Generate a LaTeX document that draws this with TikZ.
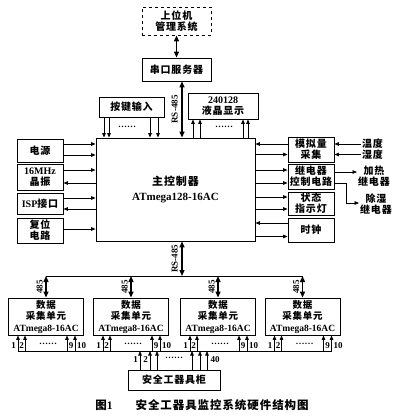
\documentclass[tikz,border=0pt]{standalone}
\usepackage{fontspec}
\setmainfont{Liberation Serif}
\newfontfamily\cjk{Noto Sans CJK SC}[LetterSpace=8]
\usetikzlibrary{arrows.meta,positioning,calc}
\newcommand{\en}[1]{{\rmfamily #1}}
\tikzset{
    blk/.style={
        rectangle, draw, line width=0.9pt, fill=white, inner sep=1pt,
        align=center, font=\fontsize{10}{11}\selectfont\bfseries\cjk
    },
    txt/.style={inner sep=1pt, align=center, font=\fontsize{10}{11}\selectfont\bfseries\cjk},
    lbl/.style={inner sep=1pt, font=\fontsize{9}{9}\selectfont\bfseries},
    arr/.style={-{Triangle[length=4.5pt, width=3.6pt]}, line width=0.8pt},
    darr/.style={{Triangle[length=6pt, width=5pt]}-{Triangle[length=6pt, width=5pt]}, line width=1.3pt},
}

\begin{document}
\begin{tikzpicture}[x=1pt, y=-1pt]
    \useasboundingbox (0,0) rectangle (404,419);

    % upper part
    \node [blk, dashed, minimum width=69pt, minimum height=28pt] (host) at (176.5,21) {上位机\\管理系统};
    \node [blk, minimum width=69pt, minimum height=23pt] (srv) at (176.5,69.5) {串口服务器};
    \node [blk, minimum width=65pt, minimum height=20pt] (key) at (131.5,107) {按键输入};
    \node [blk, minimum width=70pt, minimum height=26pt] (lcd) at (223,106) {\en{240128}\\液晶显示};
    \node [blk, minimum width=159pt, minimum height=103pt, font=\fontsize{11}{15}\selectfont\bfseries\cjk]
        (main) at (175.5,189.5) {主控制器\\\en{ATmega128-16AC}};

    % left column
    \node [blk, minimum width=46pt, minimum height=23pt] (pwr) at (40,150.5) {电源};
    \node [blk, minimum width=46pt, minimum height=26pt] (osc) at (40,177) {\en{16MHz}\\晶振};
    \node [blk, minimum width=46pt, minimum height=21pt] (isp) at (40,203.5) {\en{ISP}接口};
    \node [blk, minimum width=46pt, minimum height=25pt] (rst) at (40,230.5) {复位\\电路};

    % right column
    \node [blk, minimum width=46pt, minimum height=25pt] (adc) at (311,149.5) {模拟量\\采集};
    \node [blk, minimum width=46pt, minimum height=25pt] (rly) at (311,176.5) {继电器\\控制电路};
    \node [blk, minimum width=46pt, minimum height=23pt] (led) at (311,203.5) {状态\\指示灯};
    \node [blk, minimum width=46pt, minimum height=24pt] (clk) at (311,230) {时钟};

    \node [txt, anchor=west] (temp) at (361,144) {温度};
    \node [txt, anchor=west] (hum) at (361,154.5) {湿度};
    \node [txt] (heat) at (374,176) {加热\\继电器};
    \node [txt] (dehum) at (376,204) {除湿\\继电器};

    % acquisition units
    \foreach \n/\x in {u1/46, u2/131, u3/218, u4/302.5}
        \node [blk, minimum width=75pt, minimum height=37pt, font=\fontsize{9.5}{11.5}\selectfont\bfseries\cjk]
            (\n) at (\x,316.5) {数据\\采集单元\\\en{ATmega8-16AC}};
    \node [blk, minimum width=92pt, minimum height=20pt] (cab) at (174,380) {安全工器具柜};

    \node [txt, font=\fontsize{11.5}{12}\selectfont\bfseries\cjk] (caption) at (202,405)
        {图\en{1}\hspace{2em}安全工器具监控系统硬件结构图};

    % serial links
    \draw [darr] (host) -- (srv);
    \coordinate (rsa) at ([xshift=5.5pt]srv.south);
    \draw [darr] (rsa) -- (rsa |- main.north);
    \node [lbl, rotate=90, anchor=south, inner sep=4pt] (rs1) at ($(rsa)!0.5!(rsa |- main.north)$) {RS-485};

    \coordinate (busy) at (0,276);
    \coordinate (rsb) at ([xshift=6.5pt]main.south);
    \draw [darr] (rsb) -- (rsb |- busy);
    \node [lbl, rotate=90, anchor=south, inner sep=4pt] (rs2) at ($(rsb)!0.5!(rsb |- busy)$) {RS-485};
    \draw [line width=0.9pt] (u1.north |- busy) -- (u4.north |- busy);
    \foreach \n in {u1,u2,u3,u4} {
        \draw [darr] (\n.north |- busy) -- (\n.north);
        \node [lbl, rotate=90, anchor=south, inner sep=3pt] at ($(\n.north |- busy)!0.5!(\n.north)$) {485};
    }

    % keys and display
    \foreach \dx in {-27.5,-22.5,18.5,26.5} {
        \coordinate (k) at ([xshift=\dx pt]key.south);
        \draw [arr] (k) -- (k |- main.north);
    }
    \node [lbl] (kdots) at (127,127) {\dots\dots};
    \foreach \dx in {-30,-23,20,25} {
        \coordinate (l) at ([xshift=\dx pt]lcd.south);
        \draw [arr] (l |- main.north) -- (l);
    }
    \node [lbl] (ldots) at (224,127) {\dots\dots};

    % left connections
    \foreach \b/\dy in {pwr/6.5, pwr/-4.5, osc/7, isp/5.5, rst/1.5} {
        \coordinate (p) at ([yshift=\dy pt]\b.east);
        \draw [arr] (p) -- (p -| main.west);
    }
    \foreach \b/\dy in {osc/-6, isp/-5.5} {
        \coordinate (p) at ([yshift=\dy pt]\b.east);
        \draw [arr] (p -| main.west) -- (p);
    }

    % right connections
    \foreach \b/\dy in {adc/5.5, clk/7} {
        \coordinate (q) at ([yshift=\dy pt]\b.west);
        \draw [arr] (q) -- (q -| main.east);
    }
    \foreach \b/\dy in {adc/-5, rly/6.5, rly/-6.5, led/6.5, led/-5.5, clk/-6.5} {
        \coordinate (q) at ([yshift=\dy pt]\b.west);
        \draw [arr] (q -| main.east) -- (q);
    }
    \draw [arr] (temp.west) -- (temp.west -| adc.east);
    \draw [arr] (hum.west) -- (hum.west -| adc.east);
    \coordinate (h) at ([yshift=4.5pt]rly.east);
    \draw [arr] (h) -- (h -| heat.west);
    \coordinate (d) at ([yshift=-6.5pt]rly.east);
    \draw [arr] (d) -- ++(12,0) |- ([yshift=1pt]dehum.west);

    % signal lines
    \coordinate (liny) at (0,351);
    \draw [line width=0.8pt] ($(u1.south |- liny)+(-28,0)$) -- ($(u4.south |- liny)+(29,0)$);
    \foreach \n in {u1,u2,u3,u4} {
        \foreach \dx in {-28,-21,21,29}
            \draw [arr] ($(\n.south |- liny)+(\dx,0)$) -- ($(\n.south)+(\dx,0)$);
        \node [lbl] at ($(\n.south)+(-32.5,10)$) {1};
        \node [lbl] at ($(\n.south)+(-24.5,10)$) {2};
        \node [lbl] at ($(\n.south)+(2,8)$) {\dots\dots};
        \node [lbl] at ($(\n.south)+(25,10)$) {9};
        \node [lbl] at ($(\n.south)+(35.5,10)$) {10};
    }
    \foreach \dx in {-34,-24,-17,18,26,33}
        \draw [arr] ($(cab.north)+(\dx,0)$) -- ($(cab.north |- liny)+(\dx,0)$);
    \node [lbl] at ($(cab.north)+(-38.5,-10)$) {1};
    \node [lbl] at ($(cab.north)+(-28.5,-10)$) {2};
    \node [lbl] at ($(cab.north)+(0,-12)$) {\dots\dots};
    \node [lbl] at ($(cab.north)+(41,-10)$) {40};

\end{tikzpicture}
\end{document}
